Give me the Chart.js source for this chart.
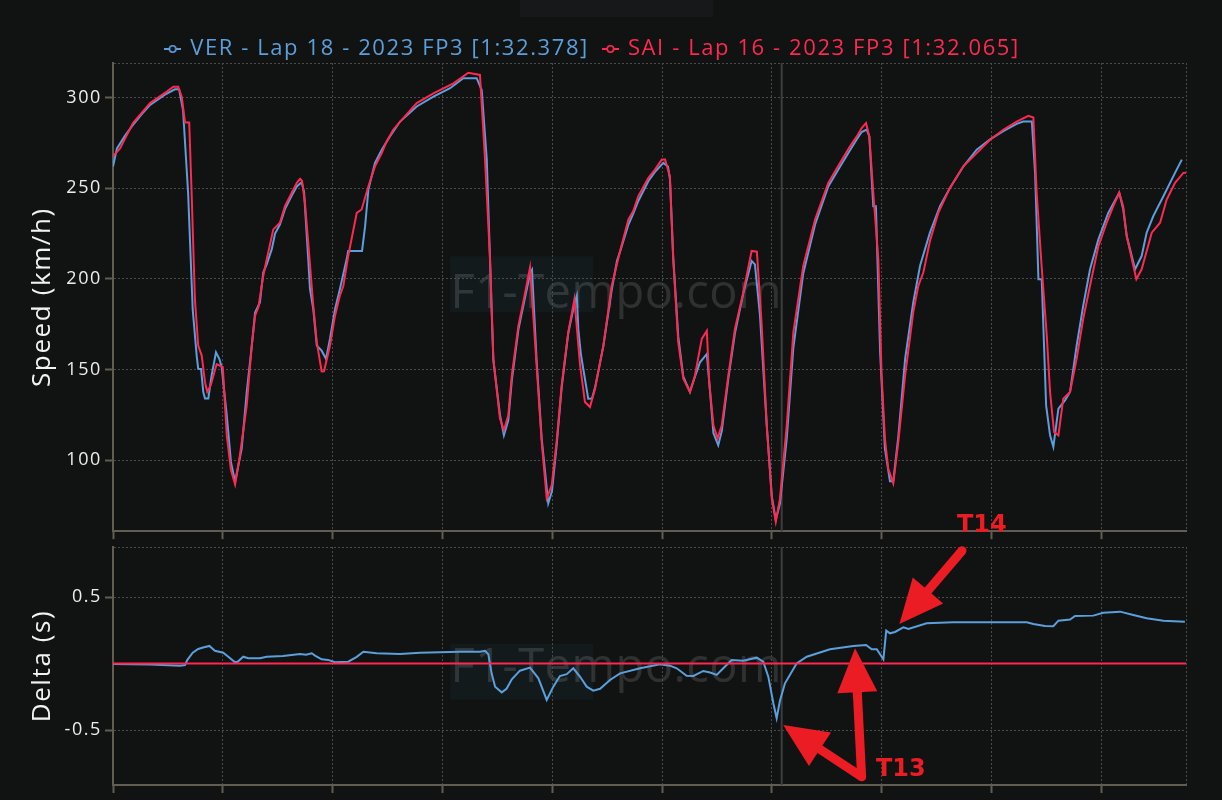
<!DOCTYPE html>
<html>
<head>
<meta charset="utf-8">
<title>VER vs SAI - 2023 FP3</title>
<script src="https://cdn.jsdelivr.net/npm/chart.js@4.4.1/dist/chart.umd.min.js"></script>
<style>
	html, body { margin: 0; padding: 0; background: #111313; }
	#wrap { position: relative; width: 1222px; height: 800px; overflow: hidden; }
	#wrap canvas { position: absolute; left: 0; }
	#topbar { position: absolute; left: 520px; top: 0; width: 193px; height: 17px; background: #161819; }
</style>
</head>
<body>
<div id="wrap">
	<div id="topbar"></div>
	<canvas id="speed" width="1222" height="545" style="top:0"></canvas>
	<canvas id="delta" width="1222" height="300" style="top:500px"></canvas>
</div>
<script>
// lap data, distance in metres
var lapLength = 4886;
var distStep = 500;
var speedTicks = [100, 150, 200, 250, 300];
var deltaTicks = [-0.5, 0.5];

var verLabel = 'VER - Lap 18 - 2023 FP3 [1:32.378]';
var saiLabel = 'SAI - Lap 16 - 2023 FP3 [1:32.065]';

var verDist = [0, 18, 55, 91, 132, 169, 205, 241, 282, 301, 319, 342, 363, 381, 388, 401, 411, 419, 434, 449, 469, 484, 495, 518, 537, 556, 571, 586, 609, 632, 647, 669, 684, 700, 723, 738, 760, 783, 814, 837, 859, 870, 889, 897, 912, 928, 950, 970, 988, 1011, 1033, 1064, 1071, 1134, 1148, 1163, 1193, 1224, 1261, 1307, 1383, 1459, 1535, 1595, 1656, 1679, 1702, 1724, 1732, 1762, 1780, 1800, 1816, 1846, 1868, 1899, 1908, 1929, 1952, 1982, 1999, 2020, 2043, 2073, 2099, 2112, 2119, 2131, 2164, 2181, 2195, 2233, 2271, 2295, 2309, 2347, 2369, 2392, 2438, 2468, 2506, 2527, 2536, 2551, 2574, 2597, 2627, 2650, 2673, 2704, 2715, 2734, 2756, 2772, 2802, 2832, 2870, 2908, 2923, 2946, 2977, 3000, 3018, 3037, 3068, 3098, 3143, 3197, 3257, 3311, 3356, 3387, 3409, 3432, 3444, 3462, 3474, 3493, 3515, 3538, 3553, 3576, 3607, 3644, 3675, 3720, 3766, 3811, 3872, 3933, 3994, 4054, 4115, 4145, 4184, 4199, 4214, 4229, 4249, 4267, 4282, 4305, 4335, 4358, 4388, 4418, 4449, 4487, 4532, 4582, 4600, 4616, 4654, 4684, 4707, 4737, 4783, 4836, 4867];
var verSpeed = [262, 272, 279, 285, 291, 296, 299, 302, 304.6, 304.6, 293, 247.5, 183, 157.7, 150.4, 150.3, 137.6, 134, 134, 146.7, 159.5, 155.9, 151.3, 124.7, 99, 88, 97.2, 106.4, 137.6, 163.2, 181.5, 187, 203.5, 208, 216.4, 225, 230, 238.5, 246, 251, 253.3, 248, 210.8, 194.3, 183.3, 163.2, 160.4, 155.9, 166.9, 183.3, 194.3, 210.8, 215.4, 215.4, 229.1, 249.3, 264, 271.3, 278.6, 286.8, 295.1, 300.5, 305.2, 310.7, 310.7, 304.2, 265.8, 183.3, 155, 125, 113.7, 122, 144, 172, 185, 203, 205, 155, 112, 76.2, 83, 108, 140, 170, 185, 190.7, 172, 158, 133.9, 134, 140, 163, 194, 210, 215, 230, 236, 243, 254, 259, 264, 262, 255, 212, 168, 146, 137.6, 146, 154, 158.6, 143, 115, 108.2, 116, 145, 170, 192, 209.9, 208, 180, 119, 80, 67, 76, 112, 162, 203, 230, 251, 262, 271, 277, 281, 282.3, 278.6, 240.1, 240.1, 160, 106.4, 88.3, 88.3, 113, 155.9, 187, 207.2, 225.5, 240.1, 250.2, 262, 271.3, 277, 281.5, 285.5, 286.8, 286.8, 258, 199.8, 199.8, 130.2, 113.7, 107.3, 128.4, 133, 137.6, 163.2, 185.2, 205.3, 221.8, 236.4, 247.5, 238.6, 223.6, 205.3, 212.6, 225.5, 234.6, 245.6, 258.5, 265.8];

var saiDist = [0, 32, 91, 169, 245, 275, 297, 313, 328, 347, 358, 373, 388, 404, 419, 429, 445, 472, 500, 518, 537, 556, 578, 609, 632, 647, 662, 684, 700, 730, 760, 783, 814, 837, 852, 861, 874, 889, 912, 928, 950, 961, 988, 1011, 1033, 1049, 1071, 1110, 1132, 1163, 1193, 1224, 1246, 1276, 1322, 1383, 1459, 1550, 1618, 1671, 1694, 1717, 1732, 1762, 1780, 1800, 1816, 1846, 1868, 1899, 1929, 1952, 1975, 1998, 2020, 2043, 2073, 2101, 2127, 2149, 2172, 2195, 2233, 2271, 2309, 2347, 2369, 2392, 2438, 2468, 2499, 2514, 2536, 2551, 2574, 2597, 2627, 2650, 2681, 2704, 2715, 2734, 2753, 2772, 2802, 2832, 2870, 2908, 2932, 2954, 2977, 3000, 3018, 3037, 3068, 3098, 3143, 3197, 3257, 3311, 3356, 3387, 3409, 3429, 3444, 3462, 3485, 3500, 3515, 3530, 3553, 3576, 3607, 3644, 3667, 3690, 3720, 3758, 3811, 3872, 3933, 3994, 4054, 4115, 4168, 4191, 4206, 4229, 4252, 4267, 4285, 4305, 4327, 4358, 4388, 4418, 4449, 4487, 4525, 4555, 4582, 4600, 4616, 4646, 4660, 4684, 4730, 4768, 4798, 4836, 4874, 4886];
var saiSpeed = [267.6, 272, 286, 297, 303.3, 306, 306, 300.5, 286.3, 286.3, 247.5, 188.8, 163.2, 157.7, 143, 137.6, 141.2, 153, 151.3, 113.8, 94.5, 86.6, 102.7, 130.2, 163.2, 179.7, 184.3, 201.6, 210.8, 227.3, 231, 240.1, 247.5, 253, 255.2, 254, 242, 220, 185.2, 165, 148.9, 149, 163.2, 179.7, 190.7, 196.2, 212.6, 236.4, 238.3, 251.1, 262.1, 269.4, 275.8, 282.3, 288.7, 297, 302.4, 307.9, 313.7, 312.5, 265.8, 210.8, 155.9, 123, 116.5, 124.7, 146.7, 174.2, 187, 206.3, 152.2, 110.1, 78.8, 86.3, 110.1, 141.2, 170.5, 188.8, 152.2, 132.1, 129.3, 139.4, 163.2, 196.2, 215.4, 232.8, 237.4, 245.6, 255.7, 260.3, 265.8, 265.8, 256.6, 210.8, 165, 144.9, 137.6, 146.7, 166.9, 171.4, 143, 119.2, 111.9, 119.2, 146.7, 172.4, 192.5, 215.4, 215, 174.2, 119.2, 78.8, 66, 78.8, 119.2, 170.5, 207.2, 232.8, 253, 264, 273.1, 278.6, 283.2, 285.9, 278.6, 247.5, 210.8, 146.7, 111.9, 95.4, 87.2, 110.1, 146.7, 181.5, 196.2, 203.5, 220.9, 236.4, 250.2, 262.1, 269.4, 276.8, 282.3, 286.8, 290, 289, 247.5, 206.3, 168.7, 137.6, 115.6, 113.7, 133.9, 137.6, 155.9, 178, 196.2, 218.1, 231, 240.1, 247.5, 240, 223.6, 207.2, 199.8, 205.3, 225.5, 231, 243.8, 253, 258.5, 258.6];

// VER minus SAI, seconds
var deltaDist = [0, 168, 305, 328, 338, 363, 388, 410, 439, 464, 502, 525, 556, 569, 593, 616, 669, 700, 774, 852, 879, 905, 920, 950, 979, 1011, 1071, 1110, 1140, 1201, 1307, 1398, 1580, 1671, 1694, 1709, 1724, 1740, 1770, 1792, 1816, 1853, 1899, 1937, 1975, 2005, 2035, 2066, 2096, 2127, 2157, 2187, 2218, 2263, 2309, 2400, 2491, 2536, 2567, 2612, 2643, 2688, 2719, 2749, 2779, 2817, 2870, 2931, 2961, 2984, 3007, 3022, 3037, 3060, 3113, 3159, 3265, 3371, 3429, 3455, 3478, 3508, 3521, 3538, 3561, 3599, 3622, 3705, 3826, 4161, 4191, 4244, 4282, 4305, 4358, 4381, 4464, 4509, 4586, 4646, 4707, 4783, 4881];
var deltaTime = [-0.004, -0.008, -0.016, -0.012, 0.026, 0.081, 0.109, 0.12, 0.132, 0.096, 0.081, 0.051, 0.009, 0.015, 0.051, 0.039, 0.039, 0.051, 0.057, 0.071, 0.066, 0.077, 0.06, 0.032, 0.027, 0.009, 0.014, 0.05, 0.089, 0.077, 0.071, 0.081, 0.089, 0.089, 0.096, 0.07, -0.074, -0.174, -0.217, -0.19, -0.119, -0.054, -0.031, -0.111, -0.274, -0.174, -0.094, -0.08, -0.036, -0.1, -0.174, -0.204, -0.19, -0.124, -0.074, -0.036, -0.006, -0.016, -0.036, -0.092, -0.094, -0.056, -0.068, -0.086, -0.036, 0.026, 0.02, 0.044, 0.014, -0.099, -0.299, -0.412, -0.28, -0.149, 0, 0.051, 0.107, 0.132, 0.139, 0.107, 0.107, 0.032, 0.247, 0.227, 0.237, 0.272, 0.26, 0.302, 0.31, 0.31, 0.297, 0.282, 0.28, 0.322, 0.33, 0.357, 0.36, 0.382, 0.39, 0.365, 0.34, 0.322, 0.314];

// hover cursor and corner arrows (distance, delta)
var cursorDist = 3045;
var turnArrows = [
	{from: [3409, -0.851], to: [3379, 0.114]},
	{from: [3409, -0.851], to: [3052, -0.462]},
	{from: [3866, 0.848], to: [3581, 0.297]}
];
var turnLabels = [
	{text: 'T13', at: [3474, -0.846]},
	{text: 'T14', at: [3843, 0.991]}
];

var blue = '#5b9fdc';
var red = '#ff2850';
var gridColor = '#4a4b4b';
var axisColor = '#625d53';
var fontFamily = "'Open Sans', 'Noto Sans', sans-serif";
var textSpacing = '1.6px';

Chart.defaults.font.family = fontFamily;

function points(xs, ys) {
	return xs.map(function(x, i) { return {x: x, y: ys[i]}; });
}

function legendMarker(color) {
	var c = document.createElement('canvas');
	c.width = 17; c.height = 10;
	var g = c.getContext('2d');
	g.strokeStyle = color;
	g.lineWidth = 2;
	g.beginPath(); g.moveTo(0, 5); g.lineTo(17, 5); g.stroke();
	g.fillStyle = '#111313';
	g.lineWidth = 1.6;
	g.beginPath(); g.arc(8.5, 5, 3.2, 0, Math.PI * 2); g.fill(); g.stroke();
	return c;
}
var markers = [legendMarker(blue), legendMarker(red)];

// wider letter spacing like the original site
var spacing = {
	id: 'spacing',
	beforeUpdate: function(chart) { chart.ctx.letterSpacing = textSpacing; },
	beforeDraw: function(chart) { chart.ctx.letterSpacing = textSpacing; }
};

var watermark = {
	id: 'watermark',
	beforeDraw: function(chart, args, opts) {
		var a = chart.chartArea, ctx = chart.ctx;
		var cx = a.left + a.width * 0.469;
		var by = a.top + a.height * opts.baseline;
		ctx.save();
		ctx.letterSpacing = '0.5px';
		ctx.font = '500 47px ' + fontFamily;
		var w = ctx.measureText('F1-Tempo.com').width;
		ctx.fillStyle = 'rgba(40, 80, 90, 0.13)';
		ctx.fillRect(cx - w / 2, by - 38, w * 0.43, 56);
		ctx.fillStyle = 'rgba(255, 255, 255, 0.13)';
		ctx.textAlign = 'center';
		ctx.fillText('F1-Tempo.com', cx, by);
		ctx.restore();
	}
};

var cursor = {
	id: 'cursor',
	beforeDatasetsDraw: function(chart) {
		var a = chart.chartArea, ctx = chart.ctx;
		var x = chart.scales.x.getPixelForValue(cursorDist);
		ctx.save();
		ctx.strokeStyle = '#3c3d3d';
		ctx.lineWidth = 2;
		ctx.beginPath(); ctx.moveTo(x, a.top); ctx.lineTo(x, a.bottom); ctx.stroke();
		ctx.restore();
	}
};

function drawArrow(ctx, x1, y1, x2, y2) {
	var head = 44, half = 20;
	var ang = Math.atan2(y2 - y1, x2 - x1);
	var bx = x2 - head * Math.cos(ang), by = y2 - head * Math.sin(ang);
	ctx.lineWidth = 9;
	ctx.lineCap = 'round';
	ctx.beginPath(); ctx.moveTo(x1, y1); ctx.lineTo(bx, by); ctx.stroke();
	ctx.beginPath();
	ctx.moveTo(x2, y2);
	ctx.lineTo(bx + half * Math.sin(ang), by - half * Math.cos(ang));
	ctx.lineTo(bx - half * Math.sin(ang), by + half * Math.cos(ang));
	ctx.closePath(); ctx.fill();
}

var turns = {
	id: 'turns',
	afterDraw: function(chart) {
		var sx = chart.scales.x, sy = chart.scales.y, ctx = chart.ctx;
		ctx.save();
		ctx.letterSpacing = '0px';
		ctx.strokeStyle = '#ec1c24';
		ctx.fillStyle = '#ec1c24';
		turnArrows.forEach(function(t) {
			drawArrow(ctx, sx.getPixelForValue(t.from[0]), sy.getPixelForValue(t.from[1]),
				sx.getPixelForValue(t.to[0]), sy.getPixelForValue(t.to[1]));
		});
		ctx.font = 'bold 24px "DejaVu Sans", Verdana, sans-serif';
		ctx.textBaseline = 'alphabetic';
		turnLabels.forEach(function(t) {
			ctx.fillText(t.text, sx.getPixelForValue(t.at[0]), sy.getPixelForValue(t.at[1]));
		});
		ctx.restore();
	}
};

function xAxis() {
	var vals = [];
	for (var v = 0; v < lapLength; v += distStep) vals.push(v);
	vals.push(lapLength);
	return {
		type: 'linear',
		min: 0,
		max: lapLength,
		afterBuildTicks: function(s) { s.ticks = vals.map(function(v) { return {value: v}; }); },
		afterFit: function(s) { s.height = 8; },
		ticks: {display: false},
		grid: {
			color: gridColor,
			lineWidth: 1,
			tickLength: 8,
			tickWidth: 2,
			tickColor: function(c) { return c.tick && c.tick.value === lapLength ? 'rgba(0,0,0,0)' : axisColor; }
		},
		border: {color: axisColor, width: 2, dash: [2, 2]}
	};
}

function yAxis(min, max, tickVals, title) {
	return {
		min: min,
		max: max,
		afterBuildTicks: function(s) { s.ticks = tickVals.concat([max]).map(function(v) { return {value: v}; }); },
		afterFit: function(s) { s.width = 113; },
		ticks: {
			color: '#ececec',
			font: {size: 18},
			padding: 3,
			callback: function(v) { return tickVals.indexOf(v) >= 0 ? String(v) : ''; }
		},
		grid: {
			color: gridColor,
			lineWidth: 1,
			tickLength: 8,
			tickWidth: 2,
			tickColor: function(c) { return c.tick && c.tick.value === max ? 'rgba(0,0,0,0)' : axisColor; }
		},
		border: {color: axisColor, width: 2, dash: [2, 2]},
		title: {display: true, text: title, color: '#f2f2f2', font: {size: 26}, padding: {top: 27, bottom: 0}}
	};
}

new Chart(document.getElementById('speed'), {
	type: 'line',
	data: {
		datasets: [
			{label: verLabel, data: points(verDist, verSpeed), borderColor: blue, backgroundColor: blue, borderWidth: 2, pointRadius: 0, pointStyle: markers[0], order: 2},
			{label: saiLabel, data: points(saiDist, saiSpeed), borderColor: red, backgroundColor: red, borderWidth: 2, pointRadius: 0, pointStyle: markers[1], order: 1}
		]
	},
	options: {
		responsive: false,
		animation: false,
		devicePixelRatio: 1,
		events: [],
		layout: {padding: {left: 0, right: 36, top: 23, bottom: 4}},
		scales: {
			x: xAxis(),
			y: yAxis(60.8, 319.1, speedTicks, 'Speed (km/h)')
		},
		plugins: {
			legend: {
				display: true,
				position: 'top',
				maxHeight: 40,
				labels: {
					usePointStyle: true,
					boxWidth: 13,
					padding: 15,
					font: {size: 22},
					sort: function(a, b) { return a.datasetIndex - b.datasetIndex; },
					generateLabels: function(chart) {
						return Chart.defaults.plugins.legend.labels.generateLabels(chart).map(function(it) {
							it.fontColor = chart.data.datasets[it.datasetIndex].borderColor;
							it.pointStyle = markers[it.datasetIndex];
							return it;
						});
					}
				}
			},
			tooltip: {enabled: false},
			watermark: {baseline: 0.494}
		}
	},
	plugins: [spacing, watermark, cursor]
});

new Chart(document.getElementById('delta'), {
	type: 'line',
	data: {
		datasets: [
			{label: 'VER delta', data: points(deltaDist, deltaTime), borderColor: blue, borderWidth: 2, pointRadius: 0, order: 2},
			{label: 'SAI', data: points([0, lapLength], [0, 0]), borderColor: red, borderWidth: 2, pointRadius: 0, order: 1}
		]
	},
	options: {
		responsive: false,
		animation: false,
		devicePixelRatio: 1,
		events: [],
		layout: {padding: {left: 0, right: 36, top: 47, bottom: 7}},
		scales: {
			x: xAxis(),
			y: yAxis(-0.9135, 0.876, deltaTicks, 'Delta (s)')
		},
		plugins: {
			legend: {display: false},
			tooltip: {enabled: false},
			watermark: {baseline: 0.566}
		}
	},
	plugins: [spacing, watermark, cursor, turns]
});
</script>
</body>
</html>
